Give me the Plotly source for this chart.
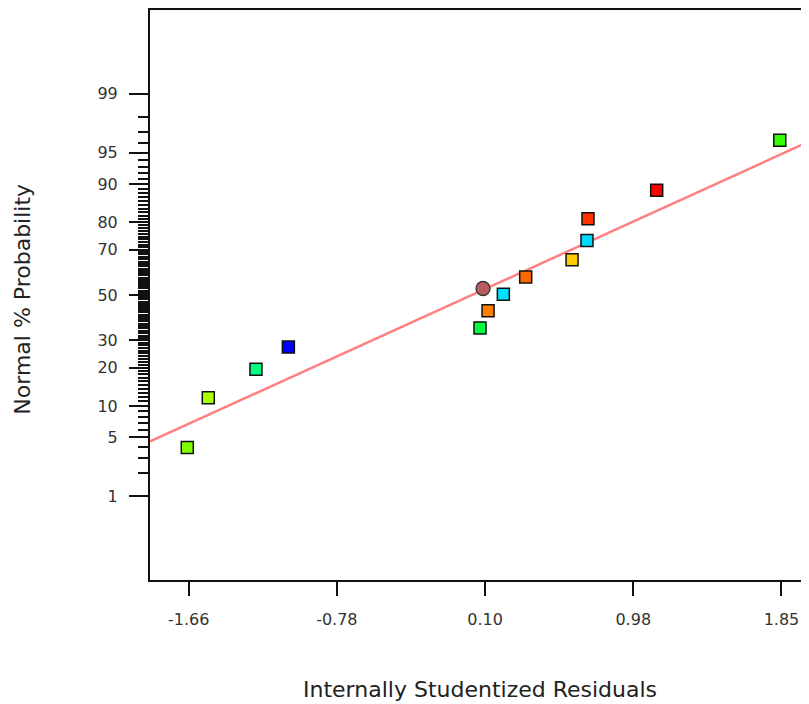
import numpy as np
import plotly.graph_objects as go
from statistics import NormalDist

# ---- data ----
residuals = [-1.668, -1.543, -1.259, -1.066, 0.075, 0.123, 0.214, 0.347,
             0.623, 0.712, 0.718, 1.127, 1.860]
probability_pct = [3.92, 11.8, 19.6, 27.4, 35.2, 42.8, 50.4, 58.2,
                   65.8, 73.5, 81.1, 88.7, 96.3]
point_colors = ["#80FF00", "#AAFF00", "#00FF80", "#0000FF", "#00FF40", "#FF8000",
                "#00E0FF", "#FF6600", "#FFCC00", "#00D8FF", "#FF3300", "#FF0000",
                "#33FF00"]

center_residual = [0.093]
center_probability_pct = [53.0]

line_slope = 0.8825        # in probit units per residual
line_intercept = -0.023

x_tick_labels = ["-1.66", "-0.78", "0.10", "0.98", "1.85"]
x_tick_values = [-1.66, -0.7775, 0.105, 0.9875, 1.87]
x_range = [-1.89, 2.034]

y_major_pct = [1, 5, 10, 20, 30, 50, 70, 80, 90, 95, 99]
y_minor_pct = [p for p in range(2, 99) if p not in y_major_pct]
y_range_pct = [0.05, 99.95]

nd = NormalDist()


def probit(p):
    return nd.inv_cdf(p / 100.0)


fig = go.Figure()

lx = np.array([x_range[0] - 0.05, x_range[1] + 0.05])
fig.add_trace(go.Scatter(
    x=lx, y=line_intercept + line_slope * lx, mode="lines",
    line=dict(color="#FF8080", width=2.5), hoverinfo="skip", showlegend=False))

fig.add_trace(go.Scatter(
    x=residuals, y=[probit(p) for p in probability_pct], mode="markers",
    marker=dict(symbol="square", size=12, color=point_colors,
                line=dict(color="#111111", width=1.5)),
    showlegend=False))

fig.add_trace(go.Scatter(
    x=center_residual, y=[probit(p) for p in center_probability_pct], mode="markers",
    marker=dict(symbol="circle", size=14, color="#B85C60",
                line=dict(color="#333333", width=1.3)),
    showlegend=False))

tick_font = dict(family="DejaVu Sans", size=16, color="#333333")

fig.update_layout(
    width=801, height=696,
    margin=dict(l=142, r=0, t=2, b=124),
    paper_bgcolor="white", plot_bgcolor="white",
    font=dict(family="DejaVu Sans"),
    xaxis=dict(
        range=x_range, tickmode="array", tickvals=x_tick_values, ticktext=x_tick_labels,
        ticks="outside", ticklen=14, tickwidth=2, tickcolor="#111111",
        showline=True, linecolor="#111111", linewidth=2, mirror=True,
        showgrid=False, zeroline=False, tickfont=tick_font, ticklabelstandoff=10),
    yaxis=dict(
        range=[probit(y_range_pct[0]), probit(y_range_pct[1])],
        tickmode="array", tickvals=[probit(p) for p in y_major_pct],
        ticktext=[str(p) for p in y_major_pct],
        ticks="outside", ticklen=19, tickwidth=2, tickcolor="#111111",
        minor=dict(tickmode="array", tickvals=[probit(p) for p in y_minor_pct],
                   ticks="outside", ticklen=10, tickwidth=1.5, tickcolor="#111111",
                   showgrid=False),
        showline=True, linecolor="#111111", linewidth=2, mirror=False,
        showgrid=False, zeroline=False, tickfont=tick_font, ticklabelstandoff=8),
    annotations=[
        dict(text="Internally Studentized Residuals", xref="paper", yref="paper",
             x=0.5, y=(580.3 - 690) / 570, xanchor="center", yanchor="middle",
             showarrow=False, font=dict(family="DejaVu Sans", size=22, color="#222222")),
        dict(text="Normal % Probability", xref="paper", yref="paper",
             x=(23 - 150) / 659, y=(580.3 - 300) / 570, xanchor="center", yanchor="middle",
             textangle=-90, showarrow=False,
             font=dict(family="DejaVu Sans", size=22, color="#222222")),
    ],
)

fig.write_html("out.html")
